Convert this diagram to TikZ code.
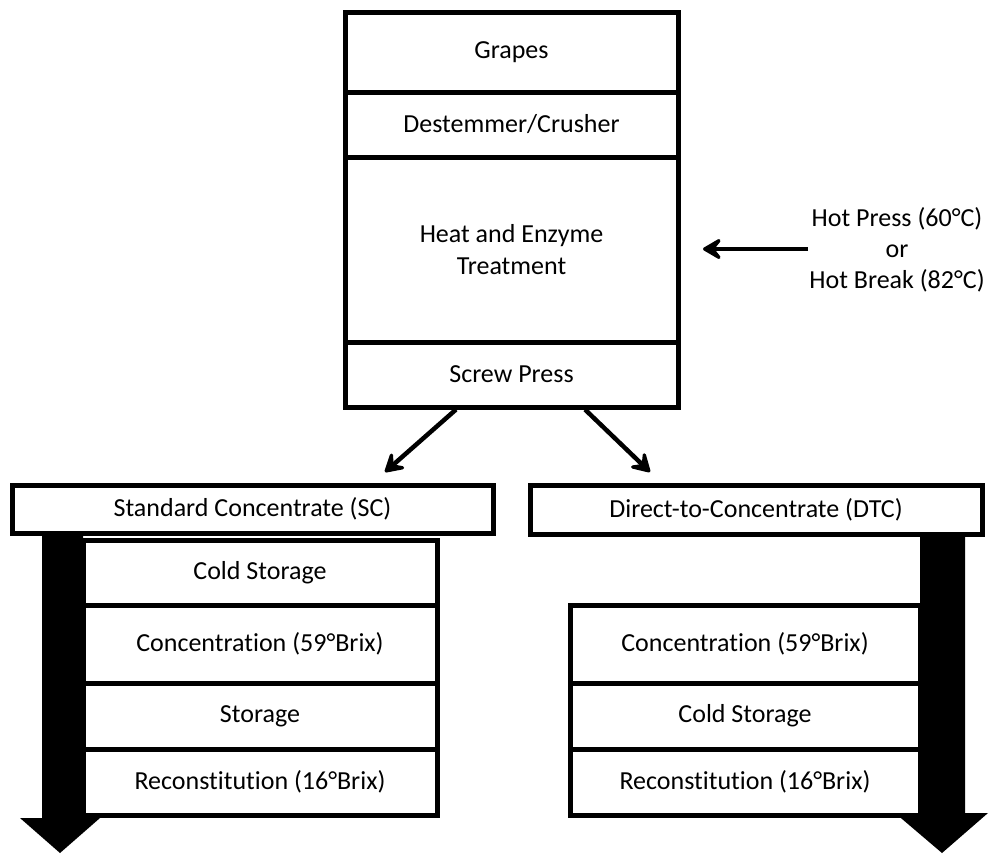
\documentclass[tikz,border=0pt]{standalone}
\usepackage{fontspec}
\setmainfont{Carlito}[Ligatures={NoCommon}]
\usetikzlibrary{arrows.meta,calc}
\begin{document}
\begin{tikzpicture}[x=1pt,y=-1pt,
  box/.style={draw=black,line width=5pt,fill=white,inner sep=0pt,align=center,font=\fontsize{26}{32}\selectfont},
  bigarrow/.style={fill=black,draw=none},
  thinarrow/.style={line width=4.5pt,-{Stealth[length=24pt,width=28pt,inset=11pt,round]}}]
\useasboundingbox (0,0) rectangle (992,855);
% big black arrows
\fill[bigarrow] (42,533) -- (83,533) -- (83,818) -- (100,818) -- (60,853) -- (20,818) -- (42,818) -- cycle;
\fill[bigarrow] (920,535) -- (965,535) -- (965,813) -- (988,813) -- (942,853) -- (895,813) -- (920,813) -- cycle;
% top stack
\node[box,minimum width=333pt,minimum height=80pt] (grapes) at (511.5,52) {Grapes};
\node[box,minimum width=333pt,minimum height=65pt] (destem) at (511.5,124.5) {Destemmer/Crusher};
\node[box,minimum width=333pt,minimum height=185pt] (heat) at (511.5,249.5) {Heat and Enzyme\\Treatment};
\node[box,minimum width=333pt,minimum height=65pt] (screw) at (511.5,374.5) {Screw Press};
% branch headers
\node[box,minimum width=481pt,minimum height=48pt] (sc) at (252.5,509) {Standard Concentrate (SC)};
\node[box,minimum width=452pt,minimum height=49pt] (dtc) at (756,509.5) {Direct-to-Concentrate (DTC)};
% left stack
\node[box,minimum width=354pt,minimum height=65pt] (cold1) at (260,572.5) {Cold Storage};
\node[box,minimum width=354pt,minimum height=78pt] (conc1) at (260,644) {Concentration (59°Brix)};
\node[box,minimum width=354pt,minimum height=66pt] (stor1) at (260,716) {Storage};
\node[box,minimum width=354pt,minimum height=66pt] (recon1) at (260,782) {Reconstitution (16°Brix)};
% right stack
\node[box,minimum width=350pt,minimum height=78pt] (conc2) at (745,644) {Concentration (59°Brix)};
\node[box,minimum width=350pt,minimum height=66pt] (cold2) at (745,716) {Cold Storage};
\node[box,minimum width=350pt,minimum height=66pt] (recon2) at (745,782) {Reconstitution (16°Brix)};
% hot press label
\node[inner sep=0pt,align=center,font=\fontsize{26}{31}\selectfont] (hot) at (897,250) {Hot Press (60°C)\\or\\Hot Break (82°C)};
\coordinate (hottip) at (703,249);
\draw[thinarrow] (808,249) -- (hottip);
% screw press arrows
\coordinate (scend) at (385,472);
\coordinate (dtcend) at (650,472);
\draw[thinarrow] ($(screw.south)+(-55.5,0)$) -- (scend);
\draw[thinarrow] ($(screw.south)+(73.5,0)$) -- (dtcend);
\end{tikzpicture}
\end{document}
